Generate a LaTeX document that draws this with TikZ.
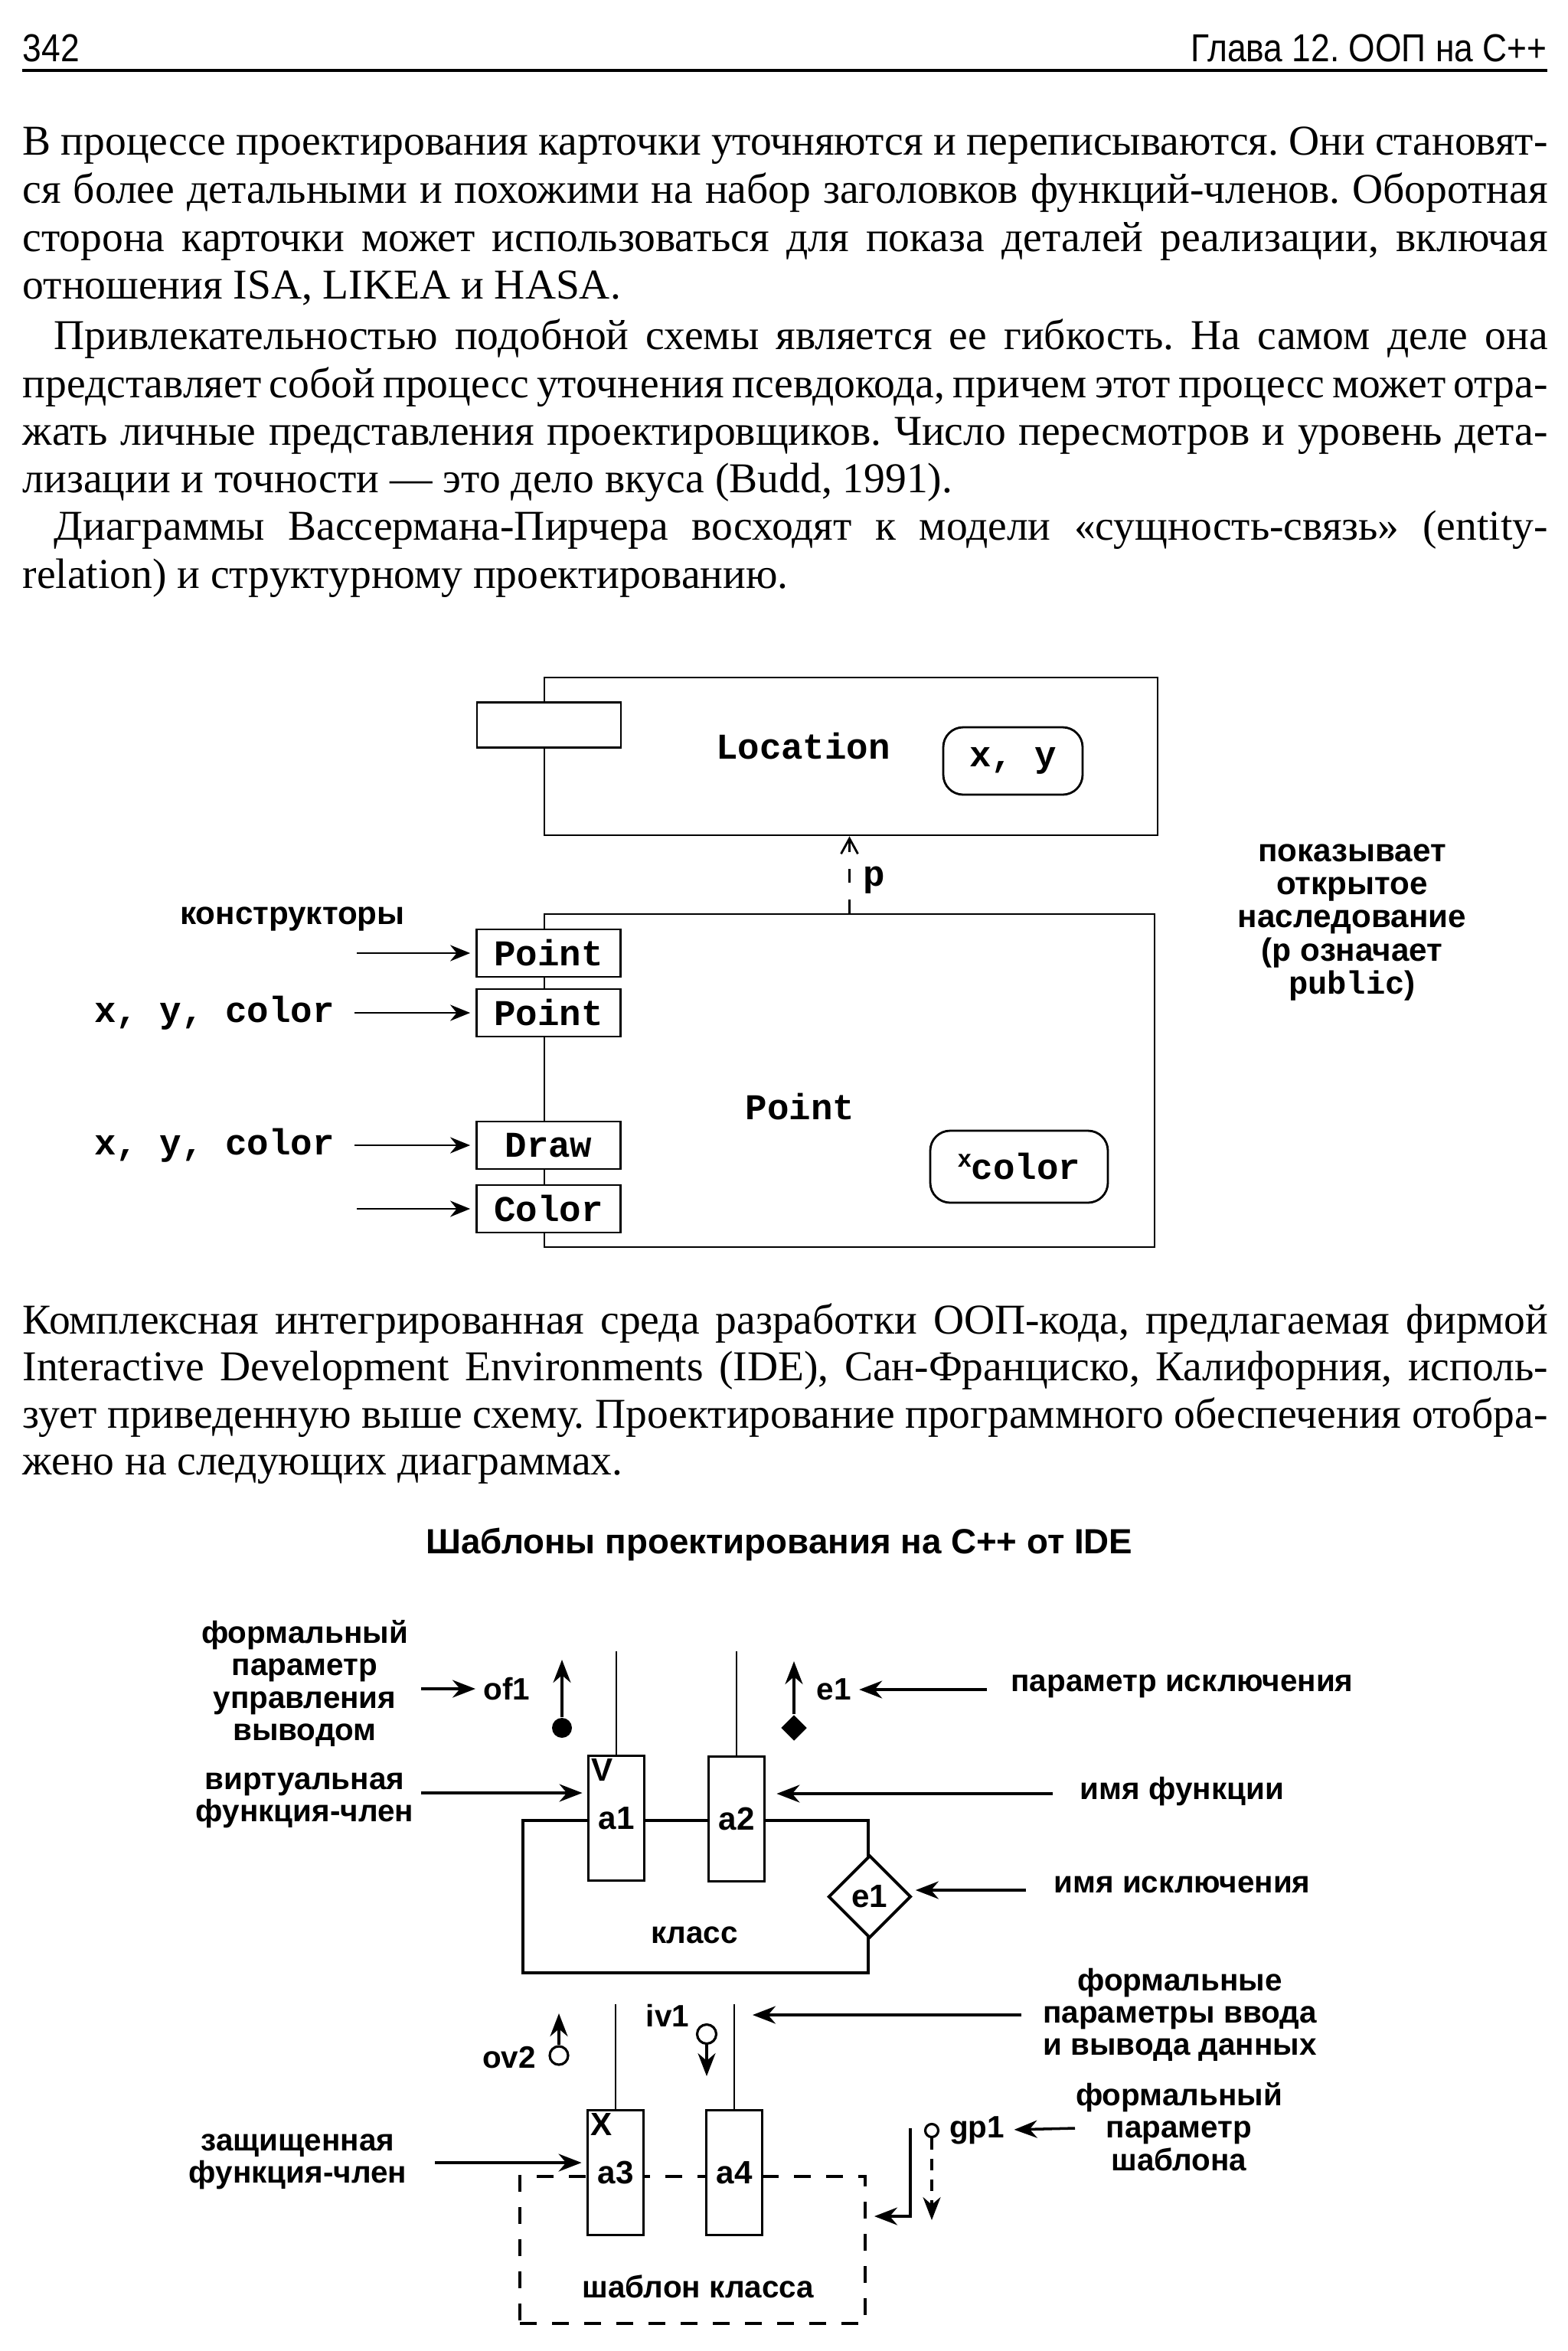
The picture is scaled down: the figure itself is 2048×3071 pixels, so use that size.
\documentclass[tikz,border=0pt]{standalone}
\usepackage{fontspec}
\setmainfont{Liberation Serif}
\setsansfont{Liberation Sans}
\setmonofont{Liberation Mono}
\newfontfamily\headfont[FakeStretch=0.87]{Liberation Sans}
\usetikzlibrary{arrows.meta,positioning,shapes.geometric}
\frenchspacing
\newcommand{\jline}[1]{\makebox[199.2mm][s]{#1}}
\tikzset{
  bodyline/.style={anchor=base west, inner sep=0pt, font=\fontsize{15.8}{17.7}\selectfont},
  headtext/.style={inner sep=0pt, font=\headfont\fontsize{14.5}{16}\selectfont},
  codetext/.style={inner sep=0pt, font=\ttfamily\bfseries\fontsize{13.5}{15}\selectfont},
  classbox/.style={draw, thick},
  memberbox/.style={draw, thick, fill=white, minimum width=18.8mm, minimum height=6.2mm, inner sep=0pt, font=\ttfamily\bfseries\fontsize{13.5}{15}\selectfont},
  attrbox/.style={draw, thick, rounded corners=2.6mm, inner sep=0pt, font=\ttfamily\bfseries\fontsize{13.5}{15}\selectfont},
  note/.style={inner sep=0pt, align=center, font=\sffamily\bfseries\fontsize{12}{12.3}\selectfont},
  label2/.style={inner sep=0pt, align=center, font=\sffamily\bfseries\fontsize{11.5}{12}\selectfont},
  clsbox/.style={draw, line width=1.1pt},
  funcbox/.style={draw, line width=1.1pt, fill=white, minimum width=7.3mm, minimum height=16.3mm, inner sep=0pt, font=\sffamily\bfseries\fontsize{12}{12}\selectfont},
  tmplbox/.style={draw, line width=1.1pt, dash pattern=on 2.2mm off 2mm},
  corner/.style={anchor=north west, inner sep=0.5mm, font=\sffamily\bfseries\fontsize{12}{12}\selectfont},
  arrow/.style={-{Stealth[length=2.6mm,width=2.1mm]}, thick},
  inherit/.style={-{Straight Barb[length=2mm,width=2.2mm]}, thick, dash pattern=on 1.8mm off 2.2mm},
  arrow2/.style={-{Stealth[length=3mm,width=2.3mm]}, line width=1pt},
  thinline/.style={line width=0.8pt}
}

\begin{document}
\begin{tikzpicture}[x=0.1mm, y=-0.1mm]
  \useasboundingbox (0,0) rectangle (2048,3071);
  % page head
  \node[headtext, anchor=base west] (pageno) at (29,80) {342};
  \node[headtext, anchor=base east] (chapter) at (2021,80) {Глава 12. ООП на С++};
  \draw[line width=0.45mm] (29,92) -- (2021,92);

  % text above the first figure
  \node[bodyline] (t1) at (29,202) {\jline{В процессе проектирования карточки уточняются и переписываются. Они становят-}};
  \node[bodyline] (t2) at (29,265) {\jline{ся более детальными и похожими на набор заголовков функций-членов. Оборотная}};
  \node[bodyline] (t3) at (29,328) {\jline{сторона карточки может использоваться для показа деталей реализации, включая}};
  \node[bodyline] (t4) at (29,390) {отношения ISA, LIKEA и HASA.};
  \node[bodyline] (t5) at (29,456) {\jline{\hspace*{4.1mm}Привлекательностью подобной схемы является ее гибкость. На самом деле она}};
  \node[bodyline] (t6) at (29,519) {\jline{представляет собой процесс уточнения псевдокода, причем этот процесс может отра-}};
  \node[bodyline] (t7) at (29,581) {\jline{жать личные представления проектировщиков. Число пересмотров и уровень дета-}};
  \node[bodyline] (t8) at (29,643) {лизации и точности — это дело вкуса (Budd, 1991).};
  \node[bodyline] (t9) at (29,705) {\jline{\hspace*{4.1mm}Диаграммы Вассермана-Пирчера восходят к модели «сущность-связь» (entity-}};
  \node[bodyline] (t10) at (29,768) {relation) и структурному проектированию.};

  % Location / Point
  \node[classbox, minimum width=80.1mm, minimum height=20.6mm] (loc) at (1111.5,988) {};
  \node[codetext] (locname) at (1049,975) {Location};
  \node[attrbox, minimum width=18.2mm, minimum height=8.8mm] (locxy) at (1323,994) {x, y};
  \node[memberbox, minimum height=5.9mm] (locctor) at (717,947) {};

  \node[classbox, minimum width=79.7mm, minimum height=43.5mm] (pt) at (1109.5,1411.5) {};
  \node[codetext] (ptname) at (1045,1446) {Point};
  \node[attrbox, minimum width=23.2mm, minimum height=9.4mm] (ptcolor) at (1331,1524)
    {\raisebox{1.6mm}{\sffamily\bfseries\fontsize{9}{9}\selectfont x}color};
  \node[memberbox] (ctor1) at (716.5,1245) {Point};
  \node[memberbox] (ctor2) at (716.5,1323) {Point};
  \node[memberbox] (mdraw) at (716.5,1496) {Draw};
  \node[memberbox] (mcolor) at (716.5,1579) {Color};

  \draw[inherit] (pt.north) -- (pt.north |- loc.south);
  \node[codetext] (plbl) at (1142,1150) {p};

  \node[note] (ctorlbl) at (382,1200) {конструкторы};
  \node[codetext] (args1) at (280,1323) {x, y, color};
  \node[codetext] (args2) at (280,1496) {x, y, color};
  \coordinate (ctorin) at (466,1245);
  \coordinate (colorin) at (466,1579);
  \draw[arrow, shorten >=0.7mm] (ctorin) -- (ctor1);
  \draw[arrow, shorten <=2.6mm, shorten >=0.7mm] (args1.east |- ctor2) -- (ctor2.west);
  \draw[arrow, shorten <=2.6mm, shorten >=0.7mm] (args2.east |- mdraw) -- (mdraw.west);
  \draw[arrow, shorten >=0.7mm] (colorin) -- (mcolor);

  \node[note, font=\sffamily\bfseries\fontsize{12}{12.3}\selectfont] (inhnote) at (1766,1205)
    {показывает\\открытое\\наследование\\(\texttt{p} означает\\\texttt{public})};

  % text between the figures
  \node[bodyline] (t11) at (29,1742) {\jline{Комплексная интегрированная среда разработки ООП-кода, предлагаемая фирмой}};
  \node[bodyline] (t12) at (29,1803) {\jline{Interactive Development Environments (IDE), Сан-Франциско, Калифорния, исполь-}};
  \node[bodyline] (t13) at (29,1865) {\jline{зует приведенную выше схему. Проектирование программного обеспечения отобра-}};
  \node[bodyline] (t14) at (29,1926) {жено на следующих диаграммах.};

  % IDE notation
  \node[label2, font=\sffamily\bfseries\fontsize{13}{14}\selectfont] (title2) at (1018,2017) {Шаблоны проектирования на С++ от IDE};

  \node[clsbox, minimum width=45.1mm, minimum height=19.9mm] (cls) at (908.5,2477.5) {};
  \node[funcbox] (a1) at (805,2375) {a1};
  \node[funcbox] (a2) at (962,2376) {a2};
  \node[corner] (a1v) at (a1.north west) {V};
  \node[diamond, draw, line width=1.1pt, fill=white, minimum width=10.8mm, minimum height=10.8mm,
        inner sep=0pt, font=\sffamily\bfseries\fontsize{12}{12}\selectfont] (e1) at (cls.east) {e1};
  \node[label2] (clsname) at (907,2528) {класс};
  \coordinate (a1top) at (805,2157);
  \coordinate (a2top) at (962,2157);
  \draw[thinline] (a1) -- (a1top);
  \draw[thinline] (a2) -- (a2top);

  \node[fill, circle, minimum size=2.6mm, inner sep=0pt] (of1dot) at (734,2257) {};
  \coordinate (of1tip) at (734,2168);
  \draw[arrow2] (of1dot) -- (of1tip);
  \node[label2] (of1) at (662,2206) {of1};
  \node[label2] (of1note) at (398,2199) {формальный\\параметр\\управления\\выводом};
  \coordinate (of1in) at (550,2206);
  \draw[arrow2, shorten >=1mm] (of1in) -- (of1);

  \node[fill, diamond, minimum size=3.4mm, inner sep=0pt] (e1dot) at (1037,2257) {};
  \coordinate (e1tip) at (1037,2170);
  \draw[arrow2] (e1dot) -- (e1tip);
  \node[label2] (e1out) at (1089,2207) {e1};
  \node[label2] (excnote) at (1544,2203) {параметр исключения};
  \coordinate (excin) at (1289,2207);
  \draw[arrow2, shorten >=1mm] (excin) -- (e1out);

  \node[label2] (virtnote) at (398,2352) {виртуальная\\функция-член};
  \coordinate (virtin) at (550,2342);
  \draw[arrow2, shorten >=0.6mm] (virtin) -- (a1.west |- virtin);

  \node[label2] (fnnote) at (1544,2340) {имя функции};
  \coordinate (fnin) at (1375,2343);
  \draw[arrow2, shorten >=1.4mm] (fnin) -- (a2.east |- fnin);

  \node[label2] (excname) at (1544,2462) {имя исключения};
  \coordinate (exnin) at (1340,2469);
  \draw[arrow2, shorten >=0.4mm] (exnin) -- (e1.east |- exnin);

  % class template
  \node[tmplbox, minimum width=45.1mm, minimum height=19.2mm] (tmpl) at (904.5,2939) {};
  \node[funcbox] (a3) at (804,2838) {a3};
  \node[funcbox] (a4) at (959,2838) {a4};
  \node[corner] (a3x) at (a3.north west) {X};
  \node[label2] (tmplname) at (912,2987) {шаблон класса};
  \coordinate (a3top) at (804,2618);
  \coordinate (a4top) at (959,2618);
  \draw[thinline] (a3) -- (a3top);
  \draw[thinline] (a4) -- (a4top);

  \node[label2] (iv1) at (872,2633) {iv1};
  \node[draw, circle, line width=0.9pt, minimum size=2.5mm, inner sep=0pt] (iv1dot) at (923,2657) {};
  \coordinate (iv1tip) at (923,2712);
  \draw[arrow2] (iv1dot) -- (iv1tip);

  \node[label2] (ov2) at (665,2688) {ov2};
  \node[draw, circle, line width=0.9pt, minimum size=2.4mm, inner sep=0pt] (ov2dot) at (730,2685) {};
  \coordinate (ov2tip) at (730,2630);
  \draw[arrow2] (ov2dot) -- (ov2tip);

  \node[label2] (ionote) at (1541,2632) {формальные\\параметры ввода\\и вывода данных};
  \coordinate (ioin) at (1334,2632);
  \coordinate (ioend) at (983,2632);
  \draw[arrow2] (ioin) -- (ioend);

  \node[label2] (protnote) at (389,2824) {защищенная\\функция-член};
  \coordinate (protin) at (568,2825);
  \draw[arrow2, shorten >=0.6mm] (protin) -- (a3.west |- protin);

  \node[draw, circle, line width=0.9pt, minimum size=1.7mm, inner sep=0pt] (gp1dot) at (1217,2783) {};
  \node[label2] (gp1) at (1276,2783) {gp1};
  \coordinate (gp1tip) at (1217,2900);
  \draw[arrow2, dash pattern=on 1.5mm off 1.2mm] (gp1dot) -- (gp1tip);
  \coordinate (gpbend) at (1189,2780);
  \coordinate (gpin) at (1142,2895);
  \draw[arrow2] (gpbend) |- (gpin);
  \node[label2] (gpnote) at (1540,2778) {формальный\\параметр\\шаблона};
  \coordinate (gptail) at (1404,2780);
  \draw[arrow2, shorten >=1.2mm] (gptail) -- (gp1);
\end{tikzpicture}
\end{document}
